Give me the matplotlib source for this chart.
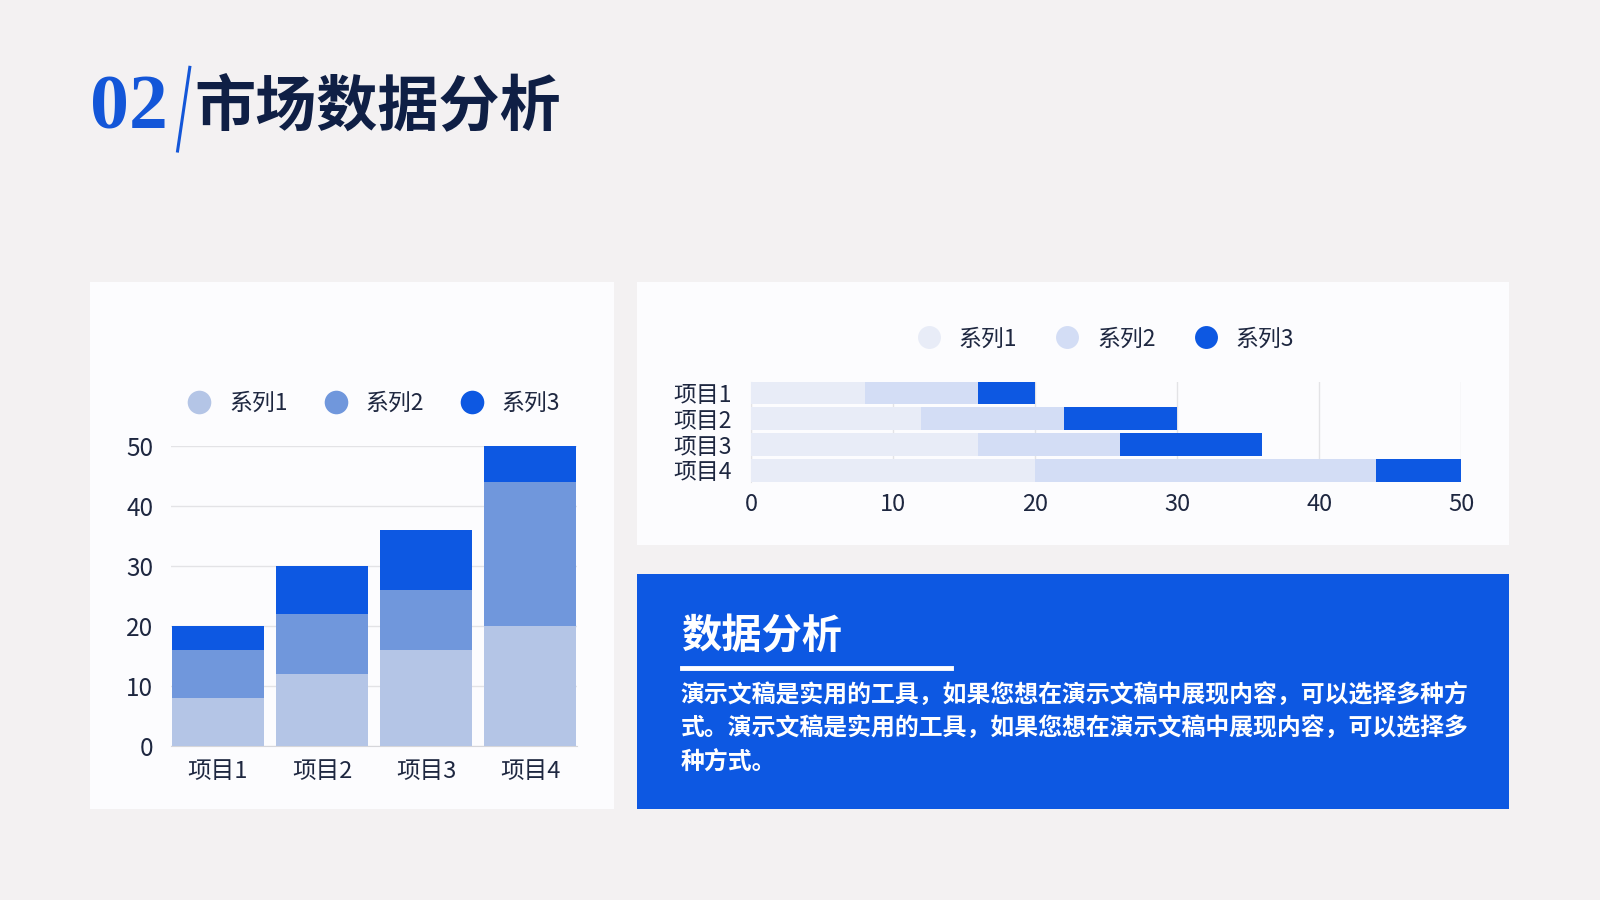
import matplotlib.pyplot as plt
from matplotlib.patches import Rectangle
from matplotlib.lines import Line2D

plt.rcParams['font.family'] = ['Noto Sans CJK SC', 'DejaVu Sans']

# data
categories = ['项目1', '项目2', '项目3', '项目4']
series_names = ['系列1', '系列2', '系列3']
series1 = [8, 12, 16, 20]
series2 = [8, 10, 10, 24]
series3 = [4, 8, 10, 6]
y_ticks = [0, 10, 20, 30, 40, 50]
x_ticks = [0, 10, 20, 30, 40, 50]

body_text = ('演示文稿是实用的工具，如果您想在演示文稿中展现内容，可以选择多种方\n'
             '式。演示文稿是实用的工具，如果您想在演示文稿中展现内容，可以选择多\n'
             '种方式。')

BG = '#f3f1f2'
PANEL = '#fcfcfe'
BLUE = '#0d58e2'
NAVY = '#0f1f45'
TXT = '#1e2740'
left_colors = ['#b4c5e6', '#7097dc', BLUE]
right_colors = ['#e8ecf7', '#d3ddf5', BLUE]

W, H = 1568.0, 882.0


def fx(x):
    return x / W


def fy(y):
    return 1 - y / H


def box(x0, y0, x1, y1):
    return [fx(x0), fy(y1), (x1 - x0) / W, (y1 - y0) / H]


fig = plt.figure(figsize=(16, 9), dpi=100, facecolor=BG)

# panels
for (x0, y0, x1, y1), c in [((88, 276, 602, 793), PANEL),
                            ((624, 276, 1479, 534), PANEL),
                            ((624, 563, 1479, 793), BLUE)]:
    fig.patches.append(Rectangle((fx(x0), fy(y1)), (x1 - x0) / W, (y1 - y0) / H,
                                 transform=fig.transFigure, facecolor=c,
                                 edgecolor='none', zorder=-10))

# title
fig.text(fx(88), fy(108), '02', family='Liberation Serif', weight='bold',
         fontsize=56, color='#1356d8', va='center', ha='left')
fig.add_artist(Line2D([fx(186), fx(174)], [fy(66), fy(148)], color='#1356d8',
                      lw=2.2, transform=fig.transFigure))
fig.text(fx(190), fy(106), '市场数据分析', weight='bold', fontsize=44,
         color=NAVY, va='center', ha='left')

# left stacked column chart
ax1 = fig.add_axes(box(168, 437, 565, 731))
ax1.set_facecolor('none')
bottom = [0, 0, 0, 0]
for vals, c in zip([series1, series2, series3], left_colors):
    ax1.bar(range(len(categories)), vals, bottom=bottom, width=0.89, color=c,
            zorder=3)
    bottom = [b + v for b, v in zip(bottom, vals)]
ax1.set_xlim(-0.446, len(categories) - 1 + 0.446)
ax1.set_ylim(0, 50)
ax1.set_yticks(y_ticks)
ax1.set_xticks(range(len(categories)))
ax1.set_xticklabels(categories)
ax1.grid(axis='y', color='#e3e3e6', lw=1, zorder=0)
for s in ['top', 'right', 'left']:
    ax1.spines[s].set_visible(False)
ax1.spines['bottom'].set_color('#d6d6da')
ax1.tick_params(axis='y', length=0, pad=13, labelsize=17.5, labelcolor=TXT)
ax1.tick_params(axis='x', length=0, pad=10, labelsize=17, labelcolor=TXT)

h1 = [Line2D([], [], ls='none', marker='o', ms=17, mfc=c, mec='none')
      for c in left_colors]
fig.legend(h1, series_names, loc='center', bbox_to_anchor=(fx(361), fy(395)),
           ncol=3, frameon=False, fontsize=16.5, handletextpad=0.3,
           columnspacing=1.1, labelcolor=TXT)

# right stacked bar chart
ax2 = fig.add_axes(box(736, 374, 1432, 472))
ax2.set_facecolor('none')
left = [0, 0, 0, 0]
for vals, c in zip([series1, series2, series3], right_colors):
    ax2.barh(range(len(categories)), vals, left=left, height=0.87, color=c,
             zorder=3)
    left = [l + v for l, v in zip(left, vals)]
ax2.set_xlim(0, 50)
ax2.set_ylim(len(categories) - 1 + 0.435, -0.435)
ax2.set_xticks(x_ticks)
ax2.set_yticks(range(len(categories)))
ax2.set_yticklabels(categories)
ax2.grid(axis='x', color='#e3e3e6', lw=1, zorder=0)
for s in ['top', 'right', 'bottom']:
    ax2.spines[s].set_visible(False)
ax2.spines['left'].set_color('#e3e3e6')
ax2.tick_params(axis='y', length=0, pad=14, labelsize=16.5, labelcolor=TXT)
ax2.tick_params(axis='x', length=0, pad=8, labelsize=17, labelcolor=TXT)

h2 = [Line2D([], [], ls='none', marker='o', ms=16.5, mfc=c, mec='none')
      for c in right_colors]
fig.legend(h2, series_names, loc='center', bbox_to_anchor=(fx(1078), fy(332)),
           ncol=3, frameon=False, fontsize=16.5, handletextpad=0.3,
           columnspacing=1.2, labelcolor=TXT)

# text box
fig.text(fx(667), fy(624), '数据分析', weight='bold', fontsize=29,
         color='white', va='center', ha='left')
fig.add_artist(Line2D([fx(668), fx(932)], [fy(655), fy(655)], color='white',
                      lw=3.5, transform=fig.transFigure))
fig.text(fx(667), fy(669), body_text, weight='bold', fontsize=17.2,
         color='white', va='top', ha='left', linespacing=1.5)

fig.savefig('out.png', dpi=100, facecolor=BG)
